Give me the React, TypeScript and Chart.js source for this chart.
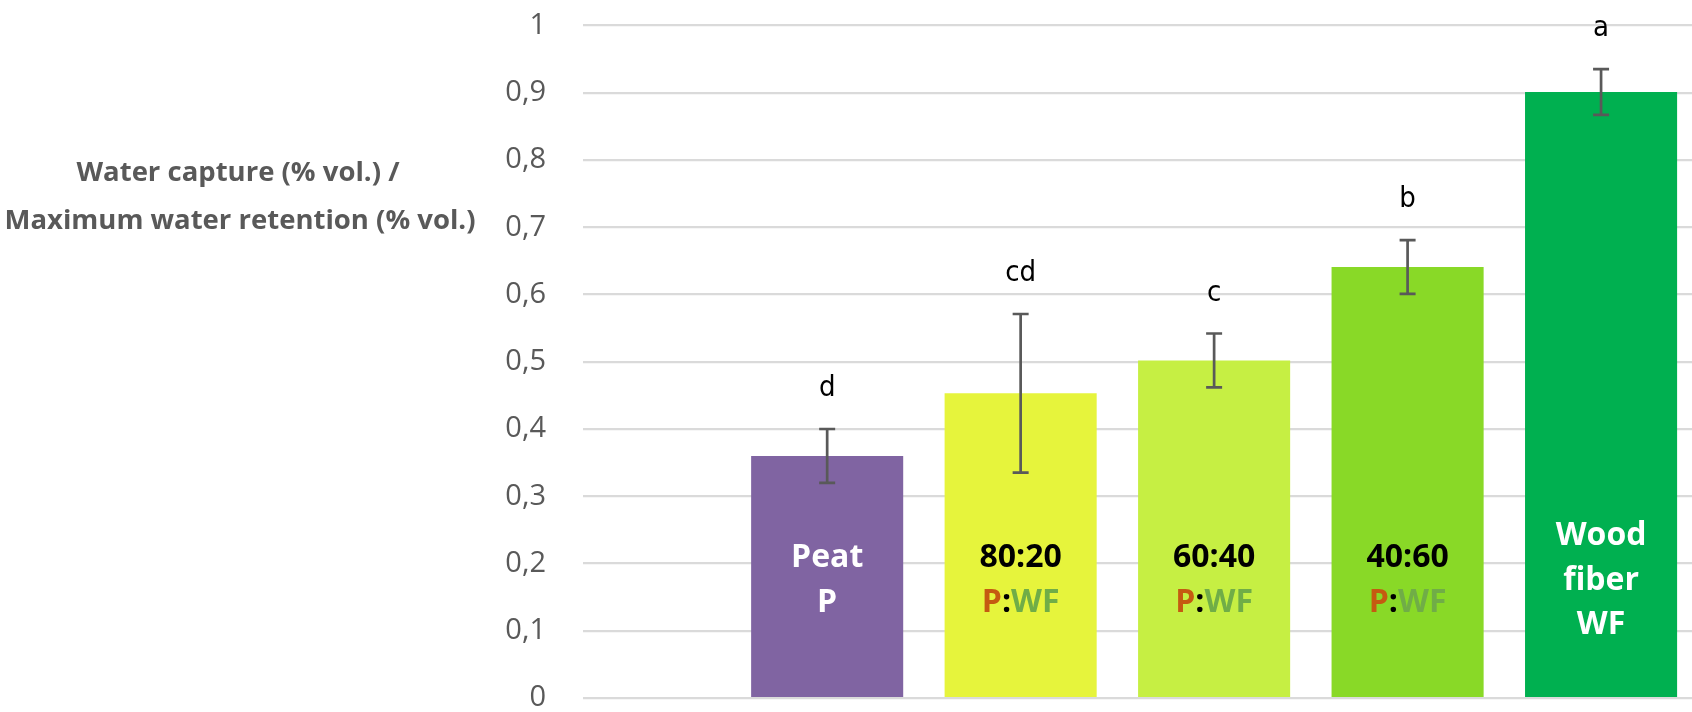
import React, { useEffect, useRef } from "react";
import { Chart, registerables } from "chart.js";

Chart.register(...registerables);

const categories = ["Peat P", "80:20 P:WF", "60:40 P:WF", "40:60 P:WF", "Wood fiber WF"];
const means = [0.36, 0.453, 0.502, 0.641, 0.901];
const errors = [0.04, 0.118, 0.04, 0.04, 0.034];
const letters = ["d", "cd", "c", "b", "a"];
const barColors = ["#8064A2", "#E6F43C", "#C6EF43", "#89D927", "#00B050"];
const yTicks = [0, 0.1, 0.2, 0.3, 0.4, 0.5, 0.6, 0.7, 0.8, 0.9, 1];
const titleLines = ["Water capture (% vol.) /", "Maximum water retention (% vol.)"];

const ORANGE = "#C55A11";
const GREEN = "#70AD47";
const barLabels: [string, string][][][] = [
  [[["Peat", "#FFFFFF"]], [["P", "#FFFFFF"]]],
  [[["80:20", "#000000"]], [["P", ORANGE], [":", "#000000"], ["WF", GREEN]]],
  [[["60:40", "#000000"]], [["P", ORANGE], [":", "#000000"], ["WF", GREEN]]],
  [[["40:60", "#000000"]], [["P", ORANGE], [":", "#000000"], ["WF", GREEN]]],
  [[["Wood", "#FFFFFF"]], [["fiber", "#FFFFFF"]], [["WF", "#FFFFFF"]]],
];

const GRAY = "#595959";

const annotationsPlugin = {
  id: "annotations",
  afterDatasetsDraw(chart: any) {
    const ctx = chart.ctx;
    const meta = chart.getDatasetMeta(0);
    const yScale = chart.scales.y;
    ctx.save();
    meta.data.forEach((bar: any, i: number) => {
      const x = bar.x;
      const top = yScale.getPixelForValue(means[i] + errors[i]);
      const bot = yScale.getPixelForValue(means[i] - errors[i]);
      // error bar
      ctx.strokeStyle = GRAY;
      ctx.lineWidth = 2.7;
      ctx.lineCap = "butt";
      ctx.beginPath();
      ctx.moveTo(x, top);
      ctx.lineTo(x, bot);
      ctx.moveTo(x - 8, top);
      ctx.lineTo(x + 8, top);
      ctx.moveTo(x - 8, bot);
      ctx.lineTo(x + 8, bot);
      ctx.stroke();
      // significance letter
      ctx.fillStyle = "#000000";
      ctx.font = "29px 'Liberation Sans Narrow', 'DejaVu Sans Condensed', sans-serif";
      ctx.textAlign = "center";
      ctx.textBaseline = "alphabetic";
      ctx.fillText(letters[i], x, top - 33);
      // in-bar label
      const fs = 32;
      ctx.font = `bold ${fs}px 'Open Sans', sans-serif`;
      ctx.textAlign = "left";
      const lines = barLabels[i];
      const center = yScale.getPixelForValue(0.178);
      const lh = 44.5;
      lines.forEach((segs, li) => {
        const lc = center + (li - (lines.length - 1) / 2) * lh;
        const baseline = lc + fs * 0.357;
        const total = segs.reduce((s, [t]) => s + ctx.measureText(t).width, 0);
        let cx = x - total / 2;
        segs.forEach(([t, c]) => {
          ctx.fillStyle = c;
          ctx.fillText(t, cx, baseline);
          cx += ctx.measureText(t).width;
        });
      });
    });
    ctx.restore();
  },
  afterDraw(chart: any) {
    const ctx = chart.ctx;
    ctx.save();
    ctx.fillStyle = GRAY;
    ctx.font = "bold 27.5px 'Open Sans', sans-serif";
    ctx.textAlign = "center";
    ctx.textBaseline = "middle";
    ctx.fillText(titleLines[0], 238, 173);
    ctx.fillText(titleLines[1], 240, 221);
    ctx.restore();
  },
};

export default function App() {
  const canvasRef = useRef<HTMLCanvasElement | null>(null);

  useEffect(() => {
    document.body.style.margin = "0";
    const canvas = canvasRef.current;
    if (!canvas) return;
    const chart = new Chart(canvas, {
      type: "bar",
      data: {
        labels: categories,
        datasets: [
          {
            label: "Water capture ratio",
            data: means.map((v, i) => ({ x: i, y: v })),
            backgroundColor: barColors,
            borderWidth: 0,
            barPercentage: 0.786,
            categoryPercentage: 1,
          },
        ],
      },
      options: {
        animation: false,
        responsive: false,
        devicePixelRatio: 1,
        layout: { padding: { top: 25.5, bottom: 14, left: 0, right: 0 } },
        plugins: {
          legend: { display: false },
          tooltip: { enabled: false },
          title: { display: false },
        },
        scales: {
          x: {
            type: "linear",
            display: false,
            offset: false,
            min: -1.262,
            max: 4.47,
            grid: { offset: false },
            afterBuildTicks: (scale: any) => {
              scale.ticks = categories.map((_, i) => ({ value: i }));
            },
          },
          y: {
            min: 0,
            max: 1,
            afterFit: (scale: any) => {
              scale.width = 583;
              scale.paddingTop = 0;
              scale.paddingBottom = 0;
            },
            afterBuildTicks: (scale: any) => {
              scale.ticks = yTicks.map((v) => ({ value: v }));
            },
            ticks: {
              padding: 37,
              color: GRAY,
              font: { family: "'Open Sans', sans-serif", size: 29 },
              callback: (v: any) => {
                const n = Number(Number(v).toFixed(1));
                return n === 0 || n === 1 ? String(n) : n.toFixed(1).replace(".", ",");
              },
            },
            grid: {
              color: "#DADADA",
              lineWidth: 2.2,
              drawTicks: false,
            },
            border: { display: false },
          },
        },
      },
      plugins: [annotationsPlugin],
    });
    return () => chart.destroy();
  }, []);

  return (
    <div style={{ position: "absolute", left: 0, top: 0, width: 1692, height: 712, background: "#FFFFFF" }}>
      <canvas ref={canvasRef} width={1692} height={712} style={{ display: "block" }} />
    </div>
  );
}
